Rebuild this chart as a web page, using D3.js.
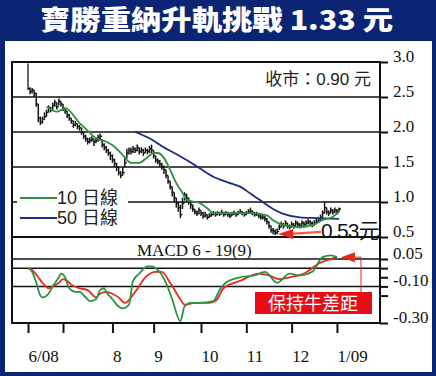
<!DOCTYPE html>
<html>
<head>
<meta charset="utf-8">
<script src="https://cdn.jsdelivr.net/npm/d3@7"></script>
<style>
  body { margin: 0; background: #0b2473; }
  svg { display: block; }
</style>
</head>
<body>
<script>
// daily bars, one per trading day (index 0 = early June 2008)
const closes = [
  2.62, 2.58, 2.60, 2.55, 2.40, 2.20, 2.14, 2.18, 2.22, 2.28,
  2.34, 2.32, 2.38, 2.42, 2.36, 2.44, 2.40, 2.34, 2.30, 2.24,
  2.20, 2.16, 2.10, 2.12, 2.08, 2.06, 2.00, 1.94, 1.90, 1.86,
  1.88, 1.90, 1.86, 1.88, 1.92, 1.94, 1.82, 1.78, 1.74, 1.70,
  1.66, 1.60, 1.55, 1.50, 1.42, 1.38, 1.42, 1.56, 1.70, 1.74,
  1.72, 1.76, 1.74, 1.78, 1.72, 1.74, 1.70, 1.74, 1.72, 1.76,
  1.74, 1.66, 1.60, 1.58, 1.54, 1.50, 1.46, 1.38, 1.30, 1.22,
  1.14, 1.06, 0.98, 0.92, 0.82, 0.98, 1.10, 1.06, 1.00, 0.96,
  0.90, 0.86, 0.84, 0.88, 0.84, 0.80, 0.82, 0.78, 0.80, 0.82,
  0.84, 0.82, 0.84, 0.83, 0.85, 0.82, 0.84, 0.82, 0.80, 0.83,
  0.84, 0.82, 0.84, 0.86, 0.84, 0.82, 0.84, 0.86, 0.87, 0.84,
  0.82, 0.83, 0.80, 0.78, 0.78, 0.76, 0.72, 0.66, 0.60, 0.58,
  0.56, 0.58, 0.64, 0.68, 0.66, 0.70, 0.66, 0.64, 0.68, 0.66,
  0.70, 0.68, 0.66, 0.70, 0.68, 0.70, 0.72, 0.70, 0.68, 0.70,
  0.72, 0.74, 0.78, 0.84, 0.92, 0.86, 0.84, 0.88, 0.86, 0.88,
  0.86, 0.90
]
const highs = [
  2.98, 2.64, 2.63, 2.60, 2.56, 2.40, 2.22, 2.22, 2.28, 2.32,
  2.38, 2.36, 2.42, 2.46, 2.42, 2.48, 2.44, 2.40, 2.34, 2.30,
  2.26, 2.20, 2.16, 2.16, 2.12, 2.10, 2.06, 2.00, 1.96, 1.92,
  1.92, 1.94, 1.90, 1.92, 1.96, 1.98, 1.90, 1.84, 1.80, 1.76,
  1.72, 1.68, 1.62, 1.56, 1.50, 1.44, 1.50, 1.64, 1.76, 1.78,
  1.78, 1.80, 1.78, 1.82, 1.78, 1.78, 1.76, 1.78, 1.76, 1.80,
  1.82, 1.74, 1.66, 1.62, 1.60, 1.56, 1.52, 1.46, 1.38, 1.30,
  1.22, 1.14, 1.06, 1.00, 0.96, 1.06, 1.14, 1.12, 1.06, 1.02,
  0.96, 0.90, 0.88, 0.92, 0.88, 0.86, 0.86, 0.82, 0.84, 0.86,
  0.87, 0.86, 0.87, 0.86, 0.89, 0.86, 0.87, 0.86, 0.84, 0.86,
  0.88, 0.85, 0.87, 0.90, 0.87, 0.85, 0.87, 0.90, 0.92, 0.88,
  0.86, 0.86, 0.84, 0.82, 0.82, 0.80, 0.77, 0.72, 0.66, 0.63,
  0.61, 0.62, 0.68, 0.72, 0.70, 0.74, 0.70, 0.68, 0.72, 0.70,
  0.74, 0.72, 0.70, 0.74, 0.72, 0.74, 0.76, 0.74, 0.72, 0.74,
  0.76, 0.78, 0.82, 0.88, 1.00, 0.92, 0.88, 0.92, 0.90, 0.92,
  0.90, 0.92
]
const lows = [
  2.60, 2.54, 2.55, 2.50, 2.36, 2.14, 2.10, 2.12, 2.18, 2.22,
  2.28, 2.28, 2.32, 2.36, 2.32, 2.38, 2.36, 2.30, 2.26, 2.20,
  2.16, 2.12, 2.06, 2.08, 2.04, 2.02, 1.96, 1.90, 1.86, 1.82,
  1.84, 1.86, 1.80, 1.84, 1.86, 1.88, 1.78, 1.74, 1.70, 1.66,
  1.60, 1.56, 1.50, 1.44, 1.38, 1.34, 1.38, 1.50, 1.62, 1.68,
  1.68, 1.70, 1.70, 1.72, 1.68, 1.70, 1.66, 1.70, 1.68, 1.70,
  1.70, 1.62, 1.56, 1.54, 1.50, 1.46, 1.40, 1.34, 1.26, 1.18,
  1.08, 1.00, 0.92, 0.86, 0.77, 0.90, 1.02, 1.00, 0.96, 0.90,
  0.86, 0.82, 0.80, 0.82, 0.80, 0.76, 0.78, 0.75, 0.77, 0.79,
  0.81, 0.79, 0.81, 0.80, 0.82, 0.79, 0.81, 0.79, 0.77, 0.80,
  0.81, 0.79, 0.81, 0.83, 0.81, 0.79, 0.81, 0.83, 0.84, 0.81,
  0.79, 0.80, 0.77, 0.75, 0.75, 0.72, 0.68, 0.62, 0.56, 0.54,
  0.53, 0.54, 0.60, 0.64, 0.62, 0.66, 0.62, 0.61, 0.64, 0.62,
  0.66, 0.64, 0.62, 0.66, 0.64, 0.66, 0.68, 0.66, 0.64, 0.66,
  0.68, 0.70, 0.74, 0.78, 0.84, 0.82, 0.80, 0.84, 0.82, 0.84,
  0.82, 0.86
]

// moving averages at a few days
const ma10Day = [9, 14, 18, 25, 30, 33, 38, 42, 46, 50, 54, 58, 61, 63, 66, 69, 72, 75, 77, 81, 83, 87, 90, 97, 108, 116, 119, 124, 132, 138, 143, 148, 151]
const ma10 = [2.36, 2.29, 2.34, 2.13, 1.99, 1.91, 1.86, 1.79, 1.67, 1.56, 1.56, 1.64, 1.70, 1.70, 1.63, 1.46, 1.27, 1.13, 1.03, 1.00, 0.99, 0.91, 0.84, 0.84, 0.84, 0.81, 0.74, 0.67, 0.64, 0.67, 0.74, 0.79, 0.86]
const ma50Day = [52, 59, 66, 71, 77, 83, 90, 97, 103, 108, 113, 119, 124, 132, 140, 151]
const ma50 = [2.00, 1.91, 1.78, 1.70, 1.60, 1.49, 1.36, 1.28, 1.22, 1.12, 1.02, 0.90, 0.83, 0.78, 0.77, 0.76]

// MACD 6-19(9)
const macdDay = [0, 2, 4, 6, 7, 10, 12, 15, 16, 18, 20, 23, 25, 28, 30, 33, 35, 37, 38, 41, 44, 46, 49, 51, 54, 58, 60, 63, 67, 70, 74, 76, 79, 83, 90, 93, 96, 103, 110, 115, 121, 127, 132, 138, 143, 147, 150]
const macd = [0.00, -0.02, -0.08, -0.15, -0.16, -0.14, -0.10, -0.05, -0.03, -0.05, -0.11, -0.13, -0.13, -0.16, -0.18, -0.17, -0.12, -0.11, -0.13, -0.17, -0.21, -0.22, -0.20, -0.07, -0.03, 0.01, 0.01, -0.01, -0.08, -0.17, -0.29, -0.21, -0.19, -0.19, -0.18, -0.12, -0.08, -0.05, -0.04, -0.02, -0.08, -0.03, -0.04, -0.02, 0.06, 0.07, 0.06]
const signalDay = [0, 2, 5, 7, 10, 12, 15, 17, 19, 21, 25, 29, 33, 35, 38, 41, 44, 47, 52, 57, 62, 65, 69, 74, 76, 81, 88, 91, 95, 103, 112, 117, 122, 127, 134, 142, 147, 150]
const signal = [0.00, -0.01, -0.05, -0.08, -0.11, -0.10, -0.08, -0.06, -0.07, -0.09, -0.11, -0.12, -0.16, -0.14, -0.13, -0.14, -0.16, -0.19, -0.13, -0.05, -0.02, -0.02, -0.08, -0.17, -0.20, -0.19, -0.19, -0.18, -0.11, -0.07, -0.03, -0.04, -0.06, -0.05, -0.03, 0.03, 0.05, 0.06]

const tickDays = [0, 17, 41, 61, 84, 106, 128, 150]
const tickLabels = ['6/08', '', '8', '9', '10', '11', '12', '1/09']
const priceTicks = [0.5, 1.0, 1.5, 2.0, 2.5, 3.0]
const priceGrid = [1.0, 1.5, 2.0, 2.5]
const macdTicks = [0.05, 0, -0.05, -0.10, -0.15, -0.30]
const macdTickLabels = ['0.05', '', '', '-0.10', '', '-0.30']
const macdGrid = [0.05, 0, -0.10]

const W = 436, H = 376
const L = 12, R = 380, T = 62, MID = 237, B = 323
const serif = '"Liberation Serif", "Times New Roman", serif'
const sans = '"Liberation Sans", Arial, "Noto Sans CJK TC", sans-serif'
const cjk = '"Noto Sans CJK TC", "Noto Sans CJK SC", sans-serif'

const svg = d3.select('body').append('svg').attr('width', W).attr('height', H)

svg.append('rect').attr('width', W).attr('height', H).attr('fill', '#0b2473')
svg.append('rect').attr('x', 5).attr('y', 41).attr('width', 427).attr('height', 331).attr('fill', '#fff')

svg.append('text')
  .attr('x', 40).attr('y', 30)
  .attr('textLength', 353).attr('lengthAdjust', 'spacingAndGlyphs')
  .attr('font-family', cjk).attr('font-weight', 900).attr('font-size', 27)
  .attr('fill', '#fff')
  .text('寶勝重納升軌挑戰 1.33 元')

var x = d3.scaleLinear().domain([0, 151]).range([28, 339])
var yP = d3.scaleLinear().domain([0.5, 3.0]).range([MID, T])
var yM = d3.scaleLinear().domain([-0.30, 0.05]).range([B, 259])

// grid
svg.append('g').selectAll('line')
  .data(priceGrid.map(yP).concat(macdGrid.map(yM)))
  .enter().append('line')
  .attr('x1', L).attr('x2', R)
  .attr('y1', d => d).attr('y2', d => d)
  .attr('stroke', '#111').attr('stroke-width', 1.5)

// legend box hides the grid behind it
var leg = svg.append('g')
leg.append('rect').attr('x', 17).attr('y', 187).attr('width', 111).attr('height', 41).attr('fill', '#fff')
leg.append('line').attr('x1', 20).attr('x2', 57).attr('y1', 198).attr('y2', 198).attr('stroke', '#2e8f3e').attr('stroke-width', 2)
leg.append('line').attr('x1', 20).attr('x2', 57).attr('y1', 218).attr('y2', 218).attr('stroke', '#1d2a86').attr('stroke-width', 2)
leg.append('text').attr('x', 57).attr('y', 204).attr('font-family', sans).attr('font-size', 18).attr('fill', '#222').text('10 日線')
leg.append('text').attr('x', 57).attr('y', 224).attr('font-family', sans).attr('font-size', 18).attr('fill', '#222').text('50 日線')

// price bars
var bars = svg.append('g')
bars.selectAll('line.bar')
  .data(closes)
  .enter().append('line')
  .attr('class', 'bar')
  .attr('x1', (d, i) => x(i)).attr('x2', (d, i) => x(i))
  .attr('y1', (d, i) => yP(highs[i])).attr('y2', (d, i) => yP(lows[i]))
  .attr('stroke', (d, i) => i === 0 ? '#3d3432' : '#151515').attr('stroke-width', 1.5)
bars.selectAll('line.cls')
  .data(closes)
  .enter().append('line')
  .attr('class', 'cls')
  .attr('x1', (d, i) => x(i)).attr('x2', (d, i) => x(i) + 2)
  .attr('y1', d => yP(d)).attr('y2', d => yP(d))
  .attr('stroke', '#151515').attr('stroke-width', 1.4)

var line = d3.line().curve(d3.curveMonotoneX)

svg.append('path')
  .attr('d', line(ma50Day.map((d, i) => [x(d), yP(ma50[i])])))
  .attr('fill', 'none').attr('stroke', '#1d2a86').attr('stroke-width', 1.8)
svg.append('path')
  .attr('d', line(ma10Day.map((d, i) => [x(d), yP(ma10[i])])))
  .attr('fill', 'none').attr('stroke', '#2e8f3e').attr('stroke-width', 1.8)

svg.append('path')
  .attr('d', line(signalDay.map((d, i) => [x(d), yM(signal[i])])))
  .attr('fill', 'none').attr('stroke', '#ea2a1e').attr('stroke-width', 1.8)
svg.append('path')
  .attr('d', line(macdDay.map((d, i) => [x(d), yM(macd[i])])))
  .attr('fill', 'none').attr('stroke', '#2a9440').attr('stroke-width', 1.8)

// frame
svg.append('rect').attr('x', L).attr('y', T).attr('width', R - L).attr('height', B - T)
  .attr('fill', 'none').attr('stroke', '#111').attr('stroke-width', 2)
svg.append('line').attr('x1', L).attr('x2', R).attr('y1', MID).attr('y2', MID)
  .attr('stroke', '#111').attr('stroke-width', 2)

// axes
var axisP = d3.axisRight(yP).tickValues(priceTicks).tickSize(8).tickPadding(5).tickFormat(d3.format('.1f'))
var axisM = d3.axisRight(yM).tickValues(macdTicks).tickSize(8).tickPadding(5).tickFormat((d, i) => macdTickLabels[i])
var axisX = d3.axisBottom(x).tickValues(tickDays).tickSize(10).tickFormat((d, i) => tickLabels[i])

var gp = svg.append('g').attr('transform', `translate(${R}, 0)`).call(axisP)
var gm = svg.append('g').attr('transform', `translate(${R}, 0)`).call(axisM)
var gx = svg.append('g').attr('transform', `translate(0, ${B})`).call(axisX)

;[gp, gm, gx].forEach(g => {
  g.select('.domain').remove()
  g.selectAll('.tick line').attr('stroke', '#111').attr('stroke-width', 2)
  g.selectAll('.tick text').attr('font-family', serif).attr('font-size', 17).attr('fill', '#111')
})
gp.selectAll('.tick text').attr('dy', '-0.05em')
gm.selectAll('.tick text').attr('dy', '-0.05em')
gx.selectAll('.tick text').attr('text-anchor', 'start').attr('y', 39).attr('dy', 0)

// labels
svg.append('text').attr('x', 137).attr('y', 256).attr('font-family', serif).attr('font-size', 17).attr('fill', '#111').text('MACD 6 - 19(9)')
svg.append('text').attr('x', 371).attr('y', 85).attr('text-anchor', 'end').attr('font-family', sans).attr('font-size', 17).attr('fill', '#222').text('收市：0.90 元')

// low marker
var lowIdx = lows.indexOf(d3.min(lows))
var ax = x(lowIdx) + 3, ay = yP(d3.min(lows))
svg.append('line').attr('x1', ax + 12).attr('x2', 321).attr('y1', ay - 1).attr('y2', ay - 3)
  .attr('stroke', '#f0603c').attr('stroke-width', 2.2)
svg.append('path').attr('d', `M${ax},${ay - 1} L${ax + 15},${ay - 6} L${ax + 15},${ay + 4} Z`).attr('fill', '#e8261c')
svg.append('text').attr('x', 321).attr('y', 238).attr('font-family', sans).attr('font-size', 21).attr('letter-spacing', -0.8).attr('fill', '#111').text('0.53元')

// MACD note
var mx = x(macdDay[macdDay.length - 1]) + 4, my = yM(signal[signal.length - 1])
svg.append('path').attr('d', `M${mx},${my} L${mx + 14},${my - 5} L${mx + 14},${my + 5} Z`).attr('fill', '#e8261c')
svg.append('path').attr('d', `M${mx + 14},${my} L361,${my} L361,292`).attr('fill', 'none').attr('stroke', '#e8261c').attr('stroke-width', 1)
svg.append('rect').attr('x', 255).attr('y', 292).attr('width', 117).attr('height', 22).attr('fill', '#e60d16')
svg.append('text').attr('x', 313).attr('y', 310).attr('text-anchor', 'middle').attr('font-family', cjk).attr('font-size', 18).attr('fill', '#fff').text('保持牛差距')
</script>
</body>
</html>
